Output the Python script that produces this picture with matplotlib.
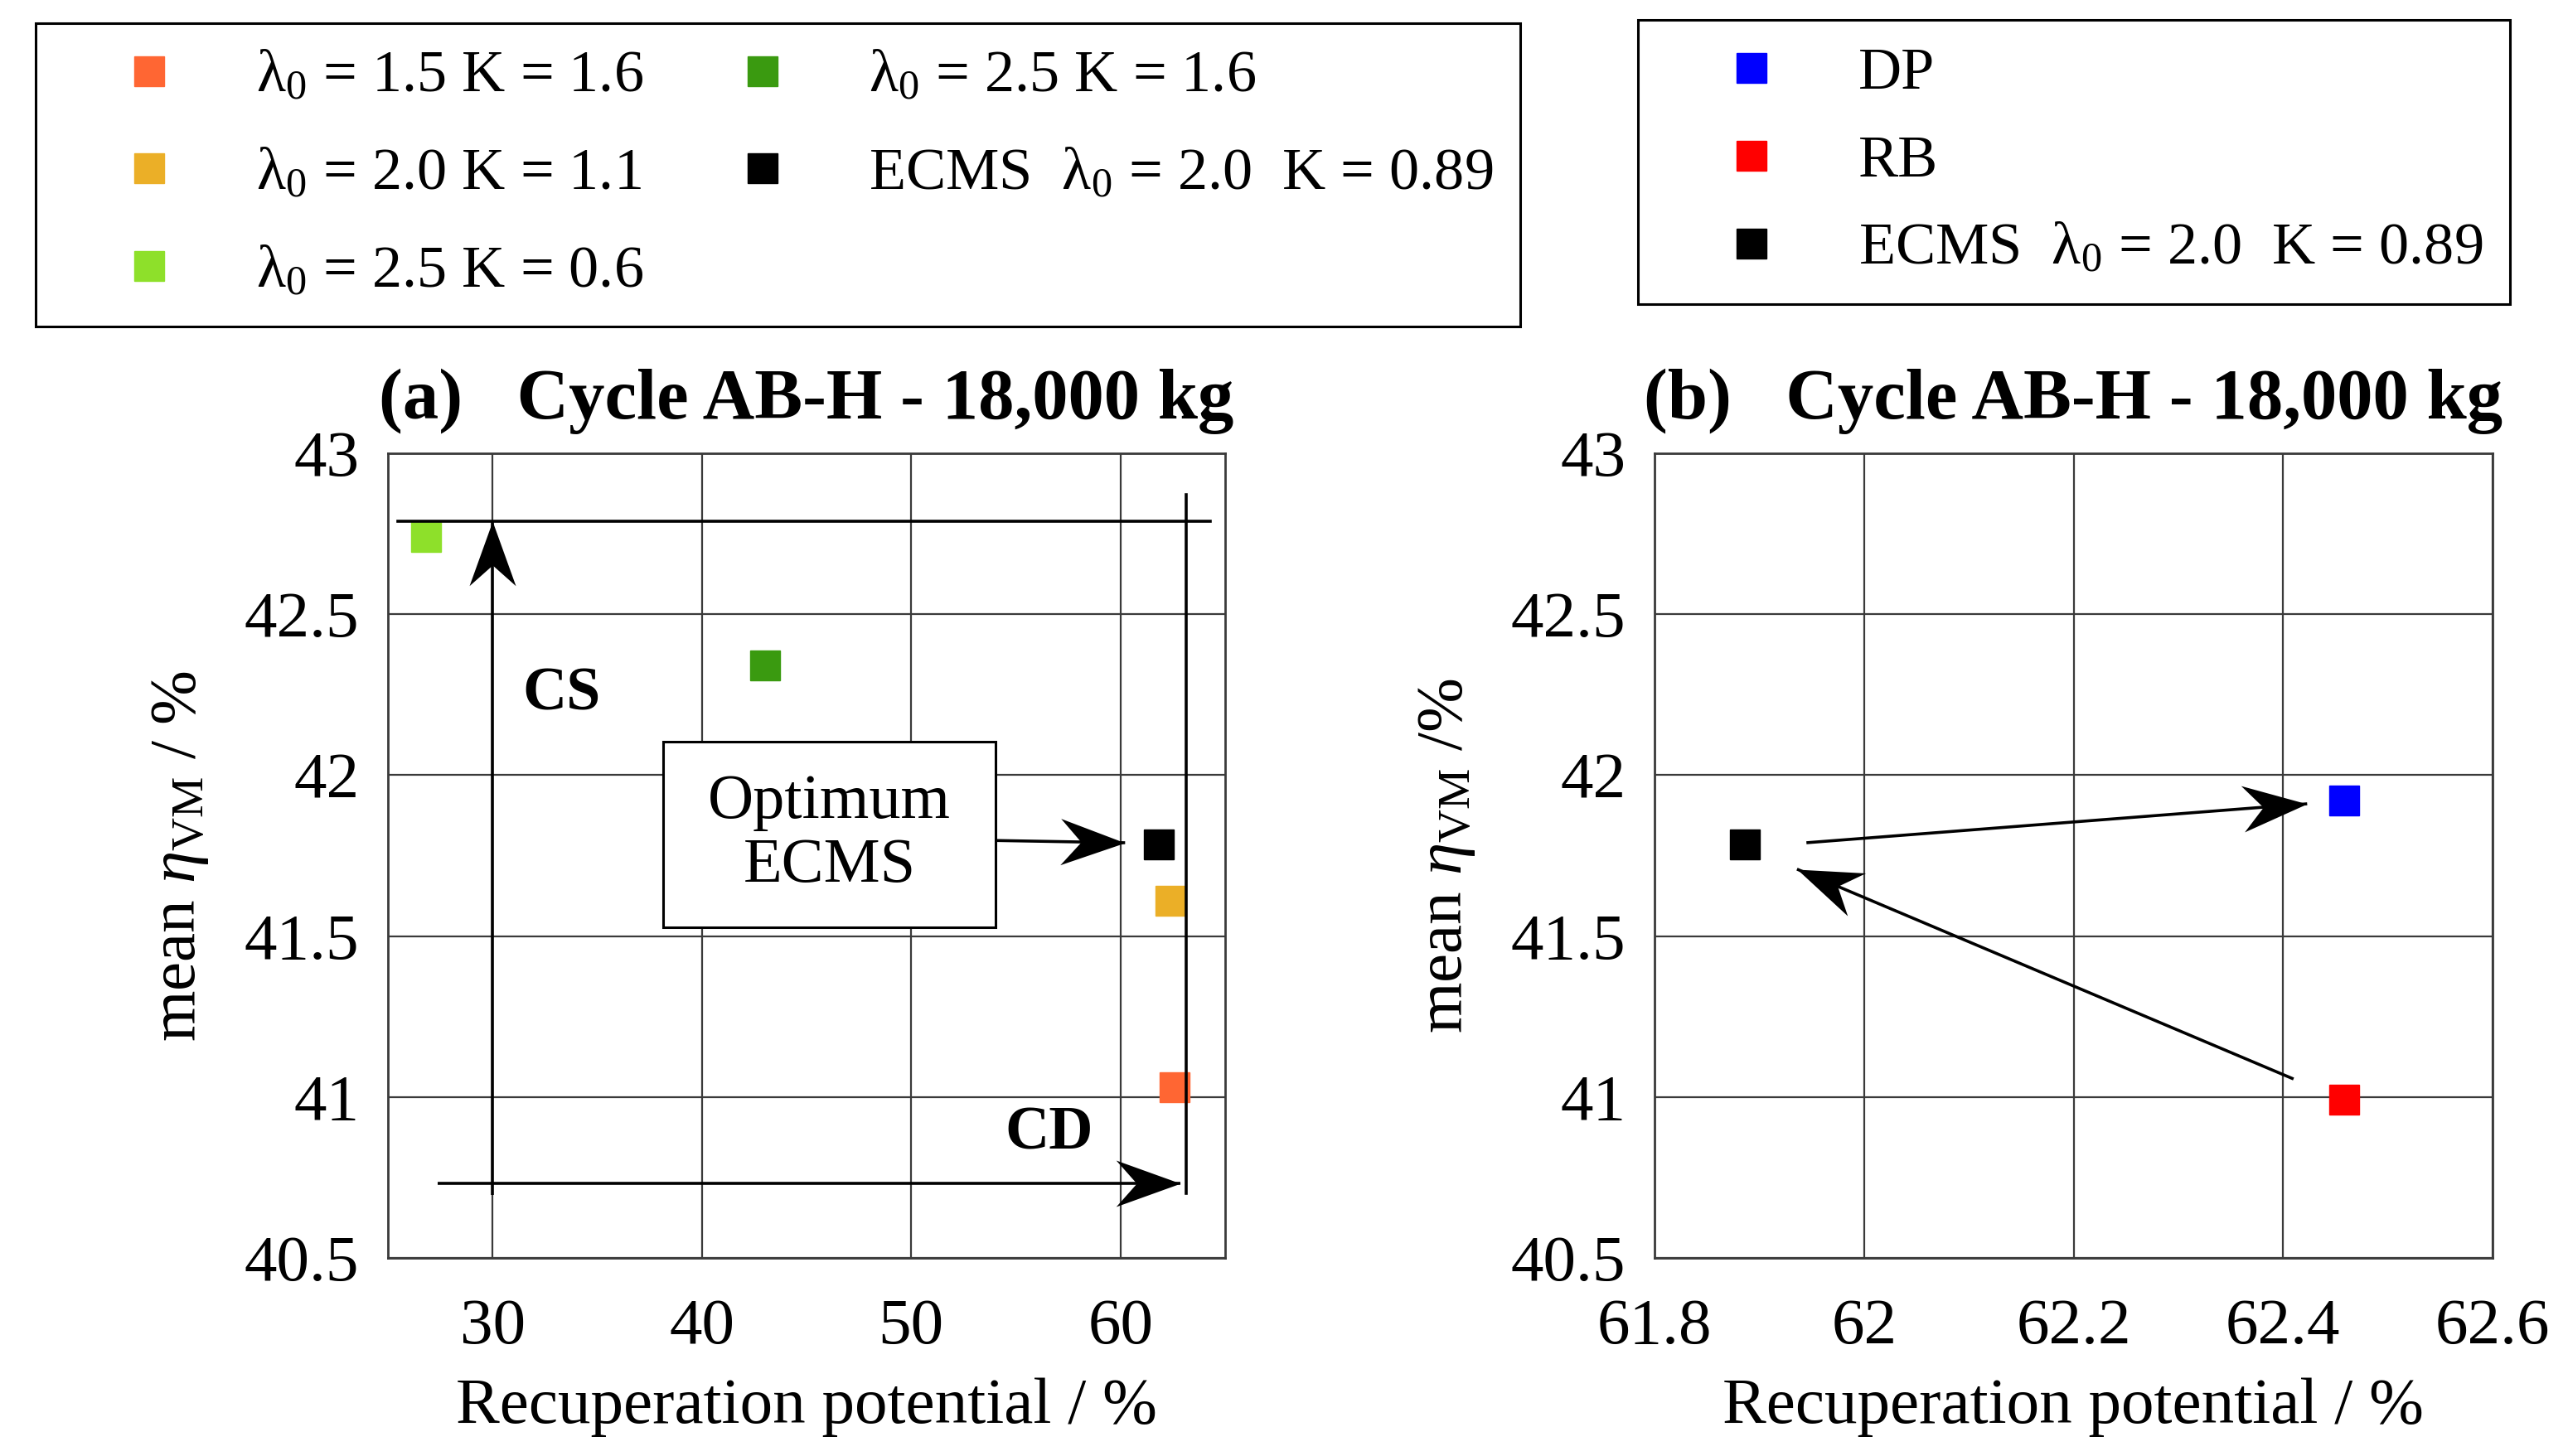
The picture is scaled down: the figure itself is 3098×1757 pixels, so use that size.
import numpy as np
import matplotlib
matplotlib.use("Agg")
import matplotlib.pyplot as plt
from matplotlib.lines import Line2D
from matplotlib.markers import MarkerStyle
from matplotlib.path import Path
from matplotlib.patches import Rectangle
from matplotlib.transforms import Affine2D

plt.rcParams['font.family'] = ['Liberation Serif', 'DejaVu Serif']
plt.rcParams['mathtext.fontset'] = 'custom'
plt.rcParams['mathtext.rm'] = 'Liberation Serif'
plt.rcParams['mathtext.it'] = 'Liberation Serif:italic'
plt.rcParams['mathtext.bf'] = 'Liberation Serif:bold'

# ---------------- data ----------------
labels_a = [r"$\mathrm{\lambda}_0$ = 1.5 K = 1.6",
            r"$\mathrm{\lambda}_0$ = 2.0 K = 1.1",
            r"$\mathrm{\lambda}_0$ = 2.5 K = 0.6",
            r"$\mathrm{\lambda}_0$ = 2.5 K = 1.6",
            r"ECMS  $\mathrm{\lambda}_0$ = 2.0  K = 0.89"]
colors_a = ["#ff6633", "#ebaf27", "#8ee02a", "#3a9a10", "#000000"]
recup_a = [62.58, 62.38, 26.81, 43.0, 61.85]
eta_a = [41.03, 41.61, 42.74, 42.34, 41.785]

labels_b = ["DP", "RB", r"ECMS  $\mathrm{\lambda}_0$ = 2.0  K = 0.89"]
colors_b = ["#0000ff", "#ff0000", "#000000"]
recup_b = [62.458, 62.458, 61.886]
eta_b = [41.921, 40.993, 41.785]

xticks_a = [30, 40, 50, 60]
xticklabels_a = ["30", "40", "50", "60"]
xticks_b = [61.8, 62.0, 62.2, 62.4, 62.6]
xticklabels_b = ["61.8", "62", "62.2", "62.4", "62.6"]
yticks = [40.5, 41.0, 41.5, 42.0, 42.5, 43.0]
yticklabels = ["40.5", "41", "41.5", "42", "42.5", "43"]

title_a = "(a)   Cycle AB-H - 18,000 kg"
title_b = "(b)   Cycle AB-H - 18,000 kg"
xlabel = "Recuperation potential / %"
ylabel_a = r"mean $\eta_{\mathrm{VM}}$ / %"
ylabel_b = r"mean $\eta_{\mathrm{VM}}$ /%"

# ---------------- figure ----------------
W, H = 3098, 1757
fig = plt.figure(figsize=(W / 100, H / 100), dpi=100)

def fx(px):
    return px / W

def fy(py):
    return 1 - py / H

ax_a = fig.add_axes([fx(468), fy(1518), fx(1478) - fx(468), fy(547) - fy(1518)])
ax_b = fig.add_axes([fx(1996), fy(1518), fx(3007) - fx(1996), fy(547) - fy(1518)])

TICK_FS = 57
LABEL_FS = 57
TITLE_FS = 62.5
LEG_FS = 52
MS = 26
GRID_C = "#3a3a3a"

def style(ax, xticks, xticklabels, xlim, title, ylabel):
    ax.set_xlim(*xlim)
    ax.set_ylim(40.5, 43)
    ax.set_xticks(xticks)
    ax.set_xticklabels(xticklabels)
    ax.set_yticks(yticks)
    ax.set_yticklabels(yticklabels)
    ax.tick_params(length=0, labelsize=TICK_FS)
    ax.tick_params(axis="x", pad=35)
    ax.tick_params(axis="y", pad=25)
    ax.grid(True, color=GRID_C, lw=1.6)
    ax.set_axisbelow(True)
    for s in ax.spines.values():
        s.set_color(GRID_C)
        s.set_linewidth(2.0)
    ax.set_title(title, fontsize=TITLE_FS, fontweight="bold", pad=30)
    ax.set_xlabel(xlabel, fontsize=LABEL_FS)
    ax.set_ylabel(ylabel, fontsize=LABEL_FS)
    ax.xaxis.set_label_coords(0.5, -0.149)
    ax.yaxis.set_label_coords(-0.212, 0.5)

style(ax_a, xticks_a, xticklabels_a, (25, 65), title_a, ylabel_a)
style(ax_b, xticks_b, xticklabels_b, (61.8, 62.6), title_b, ylabel_b)

# points panel (a)
for x, y, c in zip(recup_a, eta_a, colors_a):
    ax_a.plot([x], [y], ls="none", marker="s", ms=MS, color=c, mec=c, zorder=3)
# points panel (b)
for x, y, c in zip(recup_b, eta_b, colors_b):
    ax_b.plot([x], [y], ls="none", marker="s", ms=MS, color=c, mec=c, zorder=3)

LW = 2.6
HEAD = Path([(0, 0), (-1.0, 0.36), (-0.68, 0.0), (-1.0, -0.36), (0, 0)],
            [Path.MOVETO, Path.LINETO, Path.LINETO, Path.LINETO, Path.CLOSEPOLY])
HEAD_MS = 112

def draw_arrow(ax, start, end):
    ax.plot([start[0], end[0]], [start[1], end[1]], color="black", lw=LW,
            solid_capstyle="butt", zorder=4)
    p0 = ax.transData.transform(start)
    p1 = ax.transData.transform(end)
    ang = np.degrees(np.arctan2(p1[1] - p0[1], p1[0] - p0[0]))
    m = MarkerStyle(HEAD, transform=Affine2D().rotate_deg(ang))
    ax.plot([end[0]], [end[1]], ls="none", marker=m, ms=HEAD_MS,
            color="black", mec="black", mew=0, zorder=5)

# panel (a) guide lines
ax_a.plot([25.48, 64.29], [42.79, 42.79], color="black", lw=LW, zorder=4)
ax_a.plot([63.13, 63.13], [40.70, 42.87], color="black", lw=LW, zorder=4)
draw_arrow(ax_a, (30.0, 40.695), (30.0, 42.79))
draw_arrow(ax_a, (27.37, 40.733), (62.85, 40.733))
ax_a.text(33.3, 42.25, "CS", fontsize=53, fontweight="bold", ha="center", va="center")
ax_a.text(56.6, 40.885, "CD", fontsize=53, fontweight="bold", ha="center", va="center")
ax_a.add_patch(Rectangle((38.15, 41.528), 54.04 - 38.15, 42.105 - 41.528,
                         fc="white", ec="black", lw=2.2, zorder=5))
ax_a.text(46.1, 41.815, "Optimum\nECMS", fontsize=55, ha="center", va="center",
          linespacing=1.15, zorder=6)
draw_arrow(ax_a, (54.04, 41.797), (60.22, 41.79))

# panel (b) arrows
draw_arrow(ax_b, (61.945, 41.79), (62.423, 41.911))
draw_arrow(ax_b, (62.41, 41.056), (61.936, 41.708))

# legends
def handles(colors, labels):
    return [Line2D([], [], ls="none", marker="s", ms=MS, color=c, mec=c, label=l)
            for c, l in zip(colors, labels)]

leg_kw = dict(fontsize=LEG_FS, frameon=True, fancybox=False, edgecolor="black",
              framealpha=1, handlelength=2.9, handletextpad=0.33,
              borderaxespad=0)

leg_a = fig.legend(handles=handles(colors_a, labels_a), loc="upper left",
                   bbox_to_anchor=(fx(43), fy(28), fx(1834) - fx(43), 0.0),
                   mode="expand", ncol=2, columnspacing=0.6,
                   labelspacing=0.72, borderpad=0.45, **leg_kw)
leg_a.get_frame().set_linewidth(2.2)

leg_b = fig.legend(handles=handles(colors_b, labels_b), loc="upper left",
                   bbox_to_anchor=(fx(1976), fy(24)), ncol=1,
                   labelspacing=0.56, borderpad=0.45, **leg_kw)
leg_b.get_frame().set_linewidth(2.2)

fig.savefig("out.png", dpi=100, facecolor="white")
